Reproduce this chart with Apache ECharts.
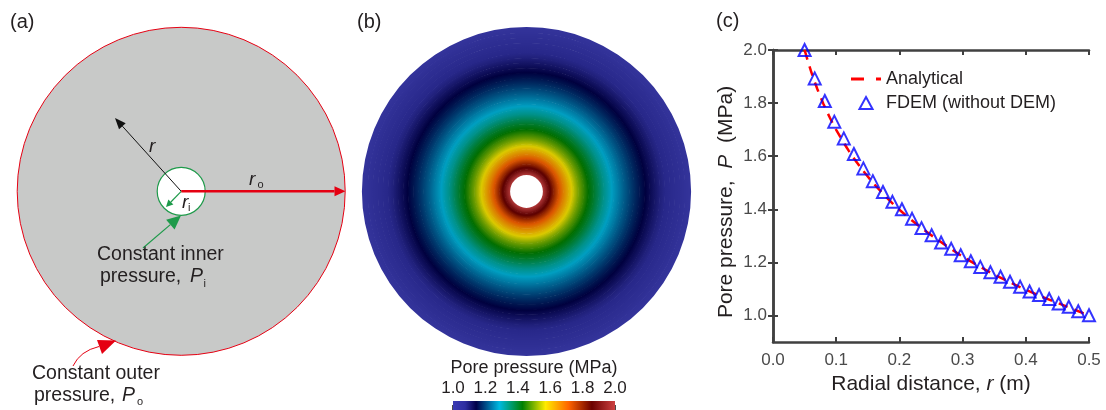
<!DOCTYPE html>
<html><head><meta charset="utf-8">
<script src="https://cdn.jsdelivr.net/npm/echarts@6/dist/echarts.min.js"></script>
<style>html,body{margin:0;padding:0;background:#fff}#c{width:1106px;height:410px}</style>
</head><body><div id="c"></div>
<script>
// ---------- data ----------
const fdemR = [0.050,0.066,0.082,0.097,0.112,0.128,0.143,0.158,0.174,0.189,0.204,0.220,0.235,0.251,0.266,0.282,0.297,0.313,0.328,0.344,0.360,0.375,0.391,0.406,0.421,0.437,0.452,0.468,0.483,0.500];
const fdemP = [2.000,1.893,1.808,1.730,1.667,1.608,1.554,1.506,1.465,1.428,1.400,1.364,1.329,1.302,1.275,1.251,1.227,1.204,1.183,1.163,1.146,1.127,1.108,1.090,1.077,1.062,1.045,1.033,1.016,1.001];
const anaR = [0.05,0.06,0.07,0.08,0.09,0.10,0.12,0.14,0.16,0.18,0.20,0.23,0.26,0.30,0.34,0.38,0.42,0.46,0.50];
const anaP = [2.000,1.921,1.854,1.796,1.745,1.699,1.620,1.553,1.495,1.444,1.398,1.339,1.286,1.222,1.167,1.119,1.076,1.038,1.000];
const xTicks = [0.0,0.1,0.2,0.3,0.4,0.5];
const yTicks = [1.0,1.2,1.4,1.6,1.8,2.0];
const cbTicks = [1.0,1.2,1.4,1.6,1.8,2.0];
const legendNames = ['Analytical','FDEM (without DEM)'];
const panelLabels = ['(a)','(b)','(c)'];
const cbTitle = 'Pore pressure (MPa)';

// ---------- styles ----------
const FONT = "'Liberation Sans', Arial, sans-serif";
const TXT = '#231f20';
const AX = '#404040';
const cmapStops = [[0,[60,60,180]],[0.075,[46,46,160]],[0.143,[0,0,72]],[0.286,[0,185,225]],[0.429,[0,128,0]],[0.571,[255,235,0]],[0.714,[255,100,0]],[0.857,[107,0,0]],[1,[205,65,65]]];
const FIELD_SHADE = 0.86;
const cbMin = cbTicks[0], cbMax = cbTicks[cbTicks.length-1];
function rgb(c){return 'rgb('+c.map(v=>Math.round(v)).join(',')+')';}
function cmapArr(p){
  let t=(p-cbMin)/(cbMax-cbMin); t=Math.max(0,Math.min(1,t));
  for(let i=1;i<cmapStops.length;i++){
    if(t<=cmapStops[i][0]){
      const a=cmapStops[i-1], b=cmapStops[i]; const f=(t-a[0])/(b[0]-a[0]);
      return a[1].map((v,k)=>v+(b[1][k]-v)*f);
    }
  }
  return cmapStops[cmapStops.length-1][1];
}
function fieldColor(p){return rgb(cmapArr(p).map(v=>v*FIELD_SHADE));}
const fieldData = fdemR.slice(0,-1).map((r,i)=>[r,fdemR[i+1],fdemP[i],fdemP[i+1]]);

// ---------- schematic helpers (panel a) ----------
function arrow(x1,y1,x2,y2,len,hw,color,lw){
  const dx=x2-x1, dy=y2-y1, L=Math.hypot(dx,dy), ux=dx/L, uy=dy/L;
  const bx=x2-ux*len, by=y2-uy*len;
  return [
    {type:'line',shape:{x1:x1,y1:y1,x2:bx,y2:by},style:{stroke:color,lineWidth:lw}},
    {type:'polygon',shape:{points:[[x2,y2],[bx-uy*hw,by+ux*hw],[bx+uy*hw,by-ux*hw]]},style:{fill:color}}
  ];
}
function txt(x,y,s,size,italic){
  return {type:'text',x:x,y:y,style:{text:s,fontSize:size,fontFamily:FONT,fontStyle:italic?'italic':'normal',fill:TXT,
    textAlign:'left',textVerticalAlign:'middle',align:'left',verticalAlign:'middle'}};
}
const CX=181.2, CY=191.3, RO=164, RI=24;
const RED='#e50012', GREEN='#1e9a4a';
const schematic = [].concat(
  [{type:'circle',shape:{cx:CX,cy:CY,r:RO},style:{fill:'#c8c9c8',stroke:RED,lineWidth:1}},
   {type:'circle',shape:{cx:CX,cy:CY,r:RI},style:{fill:'#ffffff',stroke:GREEN,lineWidth:1.2}}],
  arrow(CX,CY,115,118,11,4.5,'#111111',1),
  arrow(CX,CY,345.5,CY,11,5,RED,2.5),
  arrow(CX,CY,166,207,7,3.5,GREEN,1.2),
  arrow(143,248,181,215.5,14,6.5,GREEN,1.2),
  [{type:'bezierCurve',shape:{x1:73,y1:366,cpx1:80,cpy1:351,x2:99,y2:346.5},style:{stroke:RED,lineWidth:1,fill:null}},
   {type:'polygon',shape:{points:[[116,340.5],[97,340],[102,354]]},style:{fill:RED}}],
  [txt(149,147,'r',19,true),
   txt(249,180,'r',19,true), txt(257.5,185,'o',11,false),
   txt(182,202.5,'r',19,true), txt(188,208,'i',11,false),
   txt(97,255,'Constant inner',19.5,false),
   txt(100,277,'pressure,',19.5,false), txt(190,277,'P',19.5,true), txt(203.5,284,'i',11,false),
   txt(32,374,'Constant outer',19.5,false),
   txt(34,396,'pressure,',19.5,false), txt(122,396,'P',19.5,true), txt(137,402,'o',11,false),
   txt(10,22,panelLabels[0],20,false), txt(357,22,panelLabels[1],20,false), txt(716,21,panelLabels[2],20,false)]
);

const chart = echarts.init(document.getElementById('c'),null,{renderer:'canvas'});
const fmt1 = v=>Number(v).toFixed(1);
const option = {
  animation:false,
  textStyle:{fontFamily:FONT},
  grid:[{left:773,top:50,width:316,height:292},{left:453,top:401,width:162,height:9}],
  polar:{center:[526.5,191.5],radius:[0,164]},
  angleAxis:{type:'value',min:0,max:360,show:false},
  radiusAxis:{type:'value',min:0,max:0.5,show:false},
  xAxis:[
    {gridIndex:0,type:'value',min:xTicks[0],max:xTicks[xTicks.length-1],interval:0.1,position:'bottom',
     axisLine:{lineStyle:{color:AX,width:2.5}},axisTick:{inside:true,length:5,lineStyle:{color:AX,width:2}},
     axisLabel:{fontSize:17,color:'#4a4a4a',margin:10,formatter:fmt1},splitLine:{show:false},
     name:'Radial distance, {i|r} (m)',nameLocation:'middle',nameGap:24,
     nameTextStyle:{fontSize:21,color:TXT,rich:{i:{fontStyle:'italic',fontSize:21,color:TXT}}}},
    {gridIndex:0,type:'value',min:xTicks[0],max:xTicks[xTicks.length-1],interval:0.1,position:'top',
     axisLine:{lineStyle:{color:AX,width:2.5}},axisTick:{inside:true,length:5,lineStyle:{color:AX,width:2}},
     axisLabel:{show:false},splitLine:{show:false}},
    {gridIndex:1,type:'value',min:cbMin,max:cbMax,interval:0.2,position:'top',
     axisLine:{show:false},axisTick:{show:true,inside:false,length:5,lineStyle:{color:'#111',width:1.5}},
     axisLabel:{fontSize:17,color:TXT,margin:4,formatter:fmt1},splitLine:{show:false},
     name:cbTitle,nameLocation:'middle',nameGap:24,nameTextStyle:{fontSize:18,color:TXT}}
  ],
  yAxis:[
    {gridIndex:0,type:'value',min:0.9,max:2.0,interval:0.1,position:'left',
     axisLine:{lineStyle:{color:AX,width:2.5}},
     axisTick:{inside:true,length:5,lineStyle:{color:AX,width:2},customValues:yTicks},
     axisLabel:{fontSize:17,color:'#4a4a4a',margin:6,formatter:fmt1,customValues:yTicks},splitLine:{show:false},
     name:'Pore pressure,  {i|P}  (MPa)',nameLocation:'middle',nameGap:36,
     nameTextStyle:{fontSize:21,color:TXT,padding:[0,12,0,0],rich:{i:{fontStyle:'italic',fontSize:21,color:TXT}}}},
    {gridIndex:0,type:'value',min:0.9,max:2.0,interval:0.1,position:'right',
     axisLine:{lineStyle:{color:AX,width:2.5}},
     axisTick:{inside:true,length:5,lineStyle:{color:AX,width:2},customValues:yTicks},
     axisLabel:{show:false},splitLine:{show:false}},
    {gridIndex:1,type:'value',min:0,max:1,show:false}
  ],
  legend:{data:[{name:legendNames[0],icon:'path://M0,0H13V3H0Z M25,0H30V3H25Z'},
                {name:legendNames[1],icon:'path://M6,0L12,11L0,11Z'}],
    orient:'vertical',left:851,top:70,padding:0,itemWidth:30,itemHeight:12,itemGap:6,symbolKeepAspect:true,
    textStyle:{fontSize:18,color:TXT,fontFamily:FONT}},
  series:[
    {type:'custom',coordinateSystem:'polar',polarIndex:0,data:fieldData,silent:true,
     renderItem:function(params,api){
       const cs=params.coordSys, cx=cs.cx, cy=cs.cy;
       const a=api.coord([api.value(0),0]), b=api.coord([api.value(1),0]);
       const rin=Math.hypot(a[0]-cx,a[1]-cy), rout=Math.hypot(b[0]-cx,b[1]-cy);
       const p0=api.value(2), p1=api.value(3);
       const R=rout+0.6, stops=[];
       for(let k=0;k<=8;k++){const f=k/8; stops.push({offset:(rin+f*(rout-rin))/R,color:fieldColor(p0+f*(p1-p0))});}
       stops.push({offset:1,color:fieldColor(p1)});
       return {type:'ring',shape:{cx:cx,cy:cy,r:R,r0:rin},
         style:{fill:{type:'radial',x:cx,y:cy,r:R,global:true,colorStops:stops}}};
     }},
    {type:'custom',xAxisIndex:2,yAxisIndex:2,data:[[cbMin,cbMax]],silent:true,
     renderItem:function(params,api){
       const a=api.coord([api.value(0),0]), b=api.coord([api.value(1),1]);
       return {type:'rect',shape:{x:a[0],y:b[1],width:b[0]-a[0],height:a[1]-b[1]},
         style:{fill:{type:'linear',x:0,y:0,x2:1,y2:0,colorStops:cmapStops.map(s=>({offset:s[0],color:rgb(s[1])}))}}};
     }},
    {name:legendNames[0],type:'line',xAxisIndex:0,yAxisIndex:0,data:anaR.map((r,i)=>[r,anaP[i]]),
     symbol:'none',smooth:0.3,lineStyle:{color:'#ff0000',width:2.5,type:[10,7]},itemStyle:{color:'#ff0000'},z:2},
    {name:legendNames[1],type:'scatter',xAxisIndex:0,yAxisIndex:0,data:fdemR.map((r,i)=>[r,fdemP[i]]),
     symbol:'triangle',symbolSize:12,itemStyle:{color:'rgba(255,255,255,0)',borderColor:'#0000ff',borderWidth:2},z:3}
  ],
  graphic:{elements:schematic}
};
chart.setOption(option);
</script></body></html>
